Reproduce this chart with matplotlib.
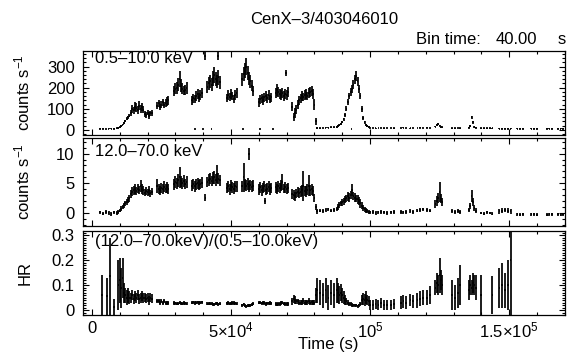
import matplotlib
matplotlib.use('Agg')
import matplotlib.pyplot as plt
from matplotlib.ticker import MultipleLocator, FixedLocator, NullFormatter
import numpy as np

plt.rcParams['font.family'] = ['Liberation Sans', 'DejaVu Sans']
plt.rcParams['mathtext.fontset'] = 'custom'
plt.rcParams['mathtext.rm'] = 'Liberation Sans'
plt.rcParams['mathtext.it'] = 'Liberation Sans:italic'
plt.rcParams['font.size'] = 12

# bin centres in ks, one line per good-time segment
time_ks = [
    3, 4, 5, 6, 7, 8, 9,
    9.5, 10, 10.5, 11, 11.5, 12, 12.5, 13, 13.5,
    14, 14.5, 15, 15.5, 16, 16.5, 17, 17.5, 18, 18.5,
    19, 19.5, 20, 20.5, 21, 21.5,
    23.5, 24, 24.5, 25, 25.5, 26, 26.5, 27, 27.5,
    29.5, 30, 30.5, 31, 31.5, 32, 32.5, 33, 33.5, 34,
    36, 36.5, 37, 37.5, 38, 38.5, 39, 39.5,
    41.5, 42, 42.5, 43, 43.5, 44, 44.5, 45, 45.5, 46,
    48.5, 49, 49.5, 50, 50.5, 51, 51.5, 52,
    54, 54.5, 55, 55.5, 56, 56.5, 57, 57.5, 58,
    60, 60.5, 61, 61.5, 62, 62.5, 63, 63.5, 64, 64.5,
    66, 66.5, 67, 67.5, 68, 68.5, 69, 69.5, 70, 70.5,
    72, 72.5, 73, 73.5, 74, 74.5, 75, 75.5, 76, 76.5, 77, 77.5, 78, 78.5, 79, 79.5,
    80, 80.5, 81,
    82, 83, 84, 85, 86, 87, 88,
    88.5, 89, 89.5, 90, 90.5, 91, 91.5, 92, 92.5, 93, 93.5, 94, 94.5, 95,
    95.5, 96, 96.5, 97, 97.5, 98, 98.5, 99, 99.5,
    100, 101, 102, 103, 104, 105, 106, 107.5, 108.5, 111, 112, 113, 114.5, 115.5, 117, 118, 119, 120.5, 121.5,
    123.5, 124, 124.5, 125, 125.5, 126,
    129.5, 130.5, 131.5, 132.3,
    135.5, 136, 136.5, 137, 137.5, 138,
    140, 141, 142, 143, 144,
    146.5, 147.5, 148.5, 149.5, 150.5,
    153, 154, 155,
    158, 159, 160,
    163.5, 164.5, 165.5,
    167.5, 168.5, 169.3,
]

soft_rate = [
    5, 5, 4, 5, 5, 6, 7,
    9, 12, 18, 25, 33, 42, 52, 60, 68,
    80, 100, 92, 110, 105, 95, 115, 100, 108, 96,
    75, 70, 82, 68, 78, 80,
    115, 125, 110, 120, 130, 118, 128, 135, 140,
    185, 195, 200, 215, 240, 210, 195, 185, 190, 200,
    140, 150, 145, 160, 170, 155, 165, 175,
    205, 220, 230, 215, 245, 260, 240, 230, 250, 225,
    150, 165, 155, 170, 160, 145, 165, 175,
    240, 265, 280, 300, 270, 245, 230, 210, 185,
    130, 145, 150, 140, 155, 160, 150, 165, 145, 155,
    175, 190, 180, 170, 165, 175, 160, 170, 165, 180,
    110, 60, 80, 95, 120, 140, 150, 160, 155, 165, 170, 160, 175, 180, 185, 170,
    120, 40, 10,
    8, 9, 10, 11, 12, 12, 14,
    18, 22, 28, 38, 50, 70, 100, 130, 160, 180, 195, 215, 240, 255,
    230, 195, 160, 100, 55, 35, 25, 18, 14,
    9, 9, 8, 9, 9, 8, 9, 9, 8, 9, 10, 9, 8, 9, 9, 10, 9, 10, 9,
    15, 22, 28, 20, 14, 12,
    8, 8, 9, 8,
    10, 20, 60, 35, 15, 10,
    8, 8, 8, 8, 8,
    6, 6, 6, 6, 6,
    6, 6, 6,
    6, 6, 6,
    6, 6, 6,
    6, 6, 6,
]
soft_err = [
    2, 2, 2, 2, 2, 2, 2,
    3, 3, 4, 4, 5, 6, 7, 8, 9,
    15, 20, 18, 22, 20, 18, 22, 18, 20, 18,
    14, 15, 12, 16, 12, 14,
    15, 18, 14, 16, 18, 16, 18, 20, 20,
    25, 25, 28, 30, 38, 30, 25, 22, 25, 28,
    20, 22, 20, 22, 25, 22, 22, 25,
    28, 30, 32, 30, 35, 38, 32, 30, 35, 30,
    20, 22, 20, 24, 20, 18, 22, 22,
    30, 35, 35, 40, 35, 30, 30, 28, 25,
    20, 22, 22, 20, 22, 24, 22, 24, 20, 22,
    24, 28, 25, 22, 22, 25, 22, 24, 22, 25,
    22, 20, 25, 22, 20, 20, 22, 22, 20, 22, 22, 20, 24, 22, 25, 24,
    25, 15, 4,
    2, 2, 2, 2, 3, 3, 3,
    4, 5, 5, 6, 7, 9, 12, 14, 16, 18, 18, 20, 22, 22,
    22, 18, 16, 14, 10, 7, 5, 4, 3,
    2, 2, 2, 2, 2, 2, 2, 2, 2, 2, 2, 2, 2, 2, 2, 2, 2, 2, 2,
    3, 4, 5, 4, 3, 3,
    2, 2, 2, 2,
    3, 5, 8, 6, 4, 3,
    2, 2, 2, 2, 2,
    2, 2, 2, 2, 2,
    2, 2, 2,
    2, 2, 2,
    2, 2, 2,
    2, 2, 2,
]

hard_rate = [
    0.1, -0.1, 0.2, 0.0, -0.2, 0.1, 0.0,
    0.2, 0.4, 0.7, 1.0, 1.3, 1.6, 1.9, 2.2, 2.5,
    3.2, 3.6, 3.8, 4.0, 3.7, 4.1, 3.9, 4.5, 4.0, 3.8,
    3.4, 3.7, 3.5, 3.8, 3.3, 3.6,
    4.5, 4.0, 3.8, 4.2, 4.0, 4.4, 4.1, 4.3, 4.0,
    4.8, 5.2, 5.0, 5.5, 6.0, 5.3, 5.0, 5.4, 4.9, 5.2,
    4.6, 4.9, 4.5, 4.8, 5.0, 4.7, 4.9, 5.1,
    5.2, 5.5, 5.8, 5.4, 5.9, 6.0, 5.6, 6.5, 5.8, 5.5,
    4.2, 4.5, 4.0, 4.6, 4.3, 4.1, 4.5, 4.4,
    4.5, 6.0, 4.8, 4.6, 4.9, 4.5, 4.7, 4.4, 4.6,
    4.0, 4.3, 3.8, 4.2, 4.5, 3.9, 4.1, 4.4, 4.0, 4.2,
    4.3, 4.0, 4.5, 4.2, 4.6, 5.2, 4.1, 4.3, 4.0, 4.2,
    3.2, 3.0, 2.8, 3.3, 3.5, 3.4, 3.6, 3.8, 4.5, 3.7, 3.6, 3.9, 4.6, 3.8, 4.0, 3.7,
    2.5, 1.0, 0.3,
    0.4, 0.3, 0.5, 0.6, 0.4, 0.5, 0.7,
    1.0, 1.3, 1.6, 1.8, 2.0, 2.3, 2.5, 2.8, 2.6, 3.0, 3.8, 2.9, 2.6, 2.4,
    2.3, 2.0, 1.6, 1.2, 0.9, 0.6, 0.4, 0.3, 0.2,
    0.1, 0.2, 0.0, 0.1, 0.2, 0.1, 0.0, 0.1, 0.2, 0.2, 0.1, 0.2, 0.3, 0.2, 0.4, 0.5, 0.6, 0.5, 0.4,
    1.5, 2.0, 2.5, 3.5, 2.4, 1.8,
    0.3, 0.2, 0.3, 0.2,
    0.5, 1.2, 2.8, 1.8, 0.8, 0.4,
    0.0, -0.1, 0.1, 0.0, -0.1,
    0.3, 0.4, 0.5, 0.4, 0.3,
    -0.2, -0.3, -0.2,
    -0.2, -0.2, -0.3,
    -0.3, -0.2, -0.2,
    -0.2, -0.3, -0.2,
]
hard_err = [
    0.3, 0.3, 0.3, 0.3, 0.3, 0.3, 0.3,
    0.3, 0.3, 0.4, 0.4, 0.4, 0.5, 0.5, 0.5, 0.6,
    0.6, 0.7, 0.7, 0.8, 0.7, 0.8, 0.7, 1.0, 0.8, 0.7,
    0.6, 0.7, 0.6, 0.7, 0.6, 0.6,
    1.2, 0.8, 0.7, 0.8, 0.8, 0.9, 0.8, 0.9, 0.8,
    0.9, 1.0, 0.9, 1.1, 1.8, 1.0, 0.9, 1.0, 0.9, 1.0,
    0.9, 0.9, 0.9, 0.9, 0.9, 0.9, 0.9, 0.9,
    0.9, 1.0, 1.0, 0.9, 1.0, 1.1, 1.0, 1.5, 1.0, 0.9,
    0.9, 0.9, 0.9, 0.9, 0.9, 0.9, 0.9, 0.9,
    0.9, 2.4, 1.0, 0.9, 1.0, 0.9, 0.9, 0.9, 0.9,
    0.9, 0.9, 0.9, 0.9, 0.9, 0.9, 0.9, 0.9, 0.9, 0.9,
    0.9, 0.8, 0.9, 0.9, 0.9, 1.4, 0.8, 0.9, 0.8, 0.9,
    0.8, 0.8, 0.8, 0.8, 0.8, 0.8, 0.9, 0.9, 2.5, 0.9, 0.9, 0.9, 1.8, 0.9, 0.9, 0.9,
    0.7, 0.5, 0.4,
    0.3, 0.3, 0.3, 0.3, 0.3, 0.3, 0.3,
    0.5, 0.5, 0.5, 0.6, 0.6, 0.6, 0.6, 0.7, 0.7, 0.7, 1.0, 0.7, 0.7, 0.6,
    0.8, 0.7, 0.7, 0.6, 0.5, 0.4, 0.4, 0.3, 0.3,
    0.3, 0.3, 0.3, 0.3, 0.3, 0.3, 0.3, 0.3, 0.3, 0.3, 0.3, 0.3, 0.3, 0.3, 0.3, 0.3, 0.3, 0.3, 0.3,
    0.7, 0.8, 0.8, 1.7, 0.8, 0.7,
    0.3, 0.3, 0.3, 0.3,
    0.4, 0.5, 1.0, 0.7, 0.5, 0.4,
    0.25, 0.25, 0.25, 0.25, 0.25,
    0.4, 0.4, 0.4, 0.4, 0.4,
    0.25, 0.25, 0.25,
    0.25, 0.25, 0.25,
    0.25, 0.25, 0.25,
    0.25, 0.25, 0.25,
]

nan = float('nan')
hr_val = [
    nan, nan, nan, nan, nan, nan, nan,
    0.10, 0.12, 0.09, 0.13, 0.07, 0.06, 0.05, 0.06, 0.05,
    0.05, 0.06, 0.045, 0.055, 0.05, 0.06, 0.045, 0.05, 0.055, 0.05,
    0.05, 0.045, 0.05, 0.04, 0.05, 0.045,
    0.035, 0.035, 0.03, 0.035, 0.03, 0.035, 0.03, 0.03, 0.03,
    0.028, 0.027, 0.026, 0.026, 0.03, 0.027, 0.026, 0.028, 0.027, 0.026,
    0.03, 0.031, 0.029, 0.03, 0.031, 0.029, 0.03, 0.031,
    0.025, 0.026, 0.025, 0.026, 0.024, 0.024, 0.025, 0.028, 0.024, 0.025,
    0.027, 0.028, 0.026, 0.027, 0.028, 0.028, 0.027, 0.026,
    0.02, 0.024, 0.018, 0.016, 0.018, 0.019, 0.02, 0.021, 0.025,
    0.03, 0.03, 0.027, 0.03, 0.029, 0.025, 0.027, 0.027, 0.028, 0.027,
    0.025, 0.022, 0.025, 0.025, 0.028, 0.03, 0.026, 0.025, 0.024, 0.024,
    0.035, 0.045, 0.04, 0.035, 0.035, 0.03, 0.03, 0.032, 0.035, 0.03, 0.03, 0.032, 0.035, 0.03, 0.032, 0.03,
    0.03, 0.06, 0.08,
    0.07, 0.06, 0.08, 0.05, 0.07, 0.06, 0.08,
    0.07, 0.06, 0.07, 0.06, 0.05, 0.04, 0.035, 0.03, 0.025, 0.025, 0.02, 0.02, 0.02, 0.02,
    0.015, 0.02, 0.025, 0.04, 0.045, 0.04, 0.05, 0.04, 0.035,
    0.02, 0.02, 0.025, 0.02, 0.03, 0.02, 0.02, 0.02, 0.025, 0.03, 0.035, 0.03, 0.04, 0.035, 0.04, 0.045, 0.05, 0.05, 0.06,
    0.09, 0.11, 0.10, 0.14, 0.12, 0.10,
    0.06, 0.05, 0.07, 0.10,
    0.08, 0.10, 0.09, 0.11, 0.10, 0.09,
    0.06, nan, nan, nan, 0.06,
    0.09, 0.10, 0.08, 0.10, 0.20,
    nan, nan, nan,
    nan, nan, nan,
    nan, nan, nan,
    nan, nan, nan,
]
hr_err = [
    nan, nan, nan, nan, nan, nan, nan,
    0.10, 0.09, 0.08, 0.08, 0.04, 0.03, 0.03, 0.03, 0.025,
    0.02, 0.02, 0.02, 0.02, 0.02, 0.02, 0.02, 0.02, 0.02, 0.02,
    0.018, 0.018, 0.018, 0.018, 0.018, 0.018,
    0.008, 0.008, 0.008, 0.008, 0.008, 0.008, 0.008, 0.008, 0.008,
    0.007, 0.007, 0.007, 0.007, 0.007, 0.007, 0.007, 0.007, 0.007, 0.007,
    0.007, 0.007, 0.007, 0.007, 0.007, 0.007, 0.007, 0.007,
    0.006, 0.006, 0.006, 0.006, 0.006, 0.006, 0.006, 0.006, 0.006, 0.006,
    0.007, 0.007, 0.007, 0.007, 0.007, 0.007, 0.007, 0.007,
    0.006, 0.006, 0.006, 0.006, 0.006, 0.006, 0.006, 0.006, 0.006,
    0.007, 0.007, 0.007, 0.007, 0.007, 0.007, 0.007, 0.007, 0.007, 0.007,
    0.007, 0.007, 0.007, 0.007, 0.007, 0.007, 0.007, 0.007, 0.007, 0.007,
    0.015, 0.015, 0.015, 0.01, 0.01, 0.01, 0.01, 0.01, 0.012, 0.01, 0.01, 0.01, 0.012, 0.01, 0.01, 0.01,
    0.01, 0.03, 0.05,
    0.05, 0.05, 0.05, 0.05, 0.05, 0.05, 0.05,
    0.04, 0.035, 0.035, 0.03, 0.025, 0.02, 0.015, 0.01, 0.008, 0.008, 0.008, 0.006, 0.006, 0.006,
    0.006, 0.006, 0.008, 0.02, 0.025, 0.025, 0.025, 0.02, 0.02,
    0.02, 0.02, 0.02, 0.02, 0.02, 0.02, 0.02, 0.02, 0.02, 0.025, 0.025, 0.025, 0.025, 0.025, 0.03, 0.03, 0.03, 0.03, 0.035,
    0.03, 0.04, 0.04, 0.07, 0.04, 0.04,
    0.06, 0.05, 0.06, 0.08,
    0.04, 0.04, 0.03, 0.04, 0.04, 0.05,
    0.08, nan, nan, nan, 0.075,
    0.08, 0.09, 0.07, 0.10, 0.25,
    nan, nan, nan,
    nan, nan, nan,
    nan, nan, nan,
    nan, nan, nan,
]

# isolated bins (short exposures with large errors)
soft_extra_t = [37.0, 40.0, 43.0, 54.4, 60.4, 65.2, 93.3, 40.6, 45.4, 69.8]
soft_extra_rate = [4, 4, 4, 4, 4, 4, 4, 352, 350, 270]
soft_extra_err = [2, 2, 2, 2, 2, 2, 2, 22, 20, 15]
hard_extra_t = [40.8, 56.5, 62.2]
hard_extra_rate = [2.6, 10.0, 2.0]
hard_extra_err = [0.6, 1.0, 0.5]
hr_extra_t = [3.5, 5.3, 6.5, 7.9]
hr_extra_val = [0.06, 0.055, 0.135, 0.012]
hr_extra_err = [0.08, 0.075, 0.155, 0.032]

x_ticks = [0, 5e4, 1e5, 1.5e5]
x_ticklabels = ['0', r'$5{\times}10^4$', r'$10^5$', r'$1.5{\times}10^5$']


def draw(ax, t, y, e):
    t = np.asarray(t) * 1000.0
    y = np.asarray(y, dtype=float)
    e = np.asarray(e, dtype=float)
    ok = np.isfinite(y)
    ax.errorbar(t[ok], y[ok], yerr=e[ok], xerr=300, fmt='none',
                ecolor='black', elinewidth=1.25, capsize=0)


fig = plt.figure(figsize=(5.68, 3.56), dpi=100)
ax1 = fig.add_axes([0.146, 0.621, 0.849, 0.237])
ax2 = fig.add_axes([0.146, 0.365, 0.849, 0.247])
ax3 = fig.add_axes([0.146, 0.115, 0.849, 0.236])

draw(ax1, time_ks, soft_rate, soft_err)
draw(ax1, soft_extra_t, soft_extra_rate, soft_extra_err)
draw(ax2, time_ks, hard_rate, hard_err)
draw(ax2, hard_extra_t, hard_extra_rate, hard_extra_err)
draw(ax3, time_ks, hr_val, hr_err)
draw(ax3, hr_extra_t, hr_extra_val, hr_extra_err)

ax1.set_ylim(-24, 376)
ax1.yaxis.set_major_locator(MultipleLocator(100))
ax1.yaxis.set_minor_locator(MultipleLocator(20))
ax2.set_ylim(-2.2, 12.6)
ax2.yaxis.set_major_locator(MultipleLocator(5))
ax2.yaxis.set_minor_locator(MultipleLocator(1))
ax3.set_ylim(-0.02, 0.316)
ax3.yaxis.set_minor_locator(MultipleLocator(0.01))
ax3.set_yticks([0, 0.1, 0.2, 0.3])
ax3.set_yticklabels(['0', '0.1', '0.2', '0.3'])

for ax in (ax1, ax2, ax3):
    ax.set_xlim(-3240, 170140)
    ax.xaxis.set_major_locator(FixedLocator(x_ticks))
    ax.xaxis.set_minor_locator(MultipleLocator(1e4))
    ax.tick_params(which='both', direction='in', top=True, right=True, width=0.8)
    ax.tick_params(which='major', length=4.5)
    ax.tick_params(which='minor', length=2.2)
    ax.tick_params(axis='y', pad=6)
    for s in ax.spines.values():
        s.set_linewidth(0.9)
    ax.yaxis.set_label_coords(-0.105, 0.5)

ax1.xaxis.set_major_formatter(NullFormatter())
ax2.xaxis.set_major_formatter(NullFormatter())
ax3.set_xticklabels(x_ticklabels)
ax3.tick_params(axis='x', pad=4)

ax1.set_ylabel(r'counts s$^{-1}$')
ax2.set_ylabel(r'counts s$^{-1}$')
ax3.set_ylabel('HR')

ax1.text(0.025, 0.90, '0.5\u201310.0 keV', transform=ax1.transAxes, va='center', ha='left')
ax2.text(0.025, 0.85, '12.0\u201370.0 keV', transform=ax2.transAxes, va='center', ha='left')
ax3.text(0.025, 0.88, '(12.0\u201370.0keV)/(0.5\u201310.0keV)', transform=ax3.transAxes, va='center', ha='left')

fig.text(324 / 568, 1 - 19 / 356, 'CenX\u20133/403046010', ha='center', va='center')
fig.text(416 / 568, 1 - 39 / 356, 'Bin time:', ha='left', va='center')
fig.text(496 / 568, 1 - 39 / 356, '40.00', ha='left', va='center')
fig.text(558 / 568, 1 - 39 / 356, 's', ha='left', va='center')
fig.text(328 / 568, 1 - 344 / 356, 'Time (s)', ha='center', va='center')

fig.savefig('out.png', dpi=100)
